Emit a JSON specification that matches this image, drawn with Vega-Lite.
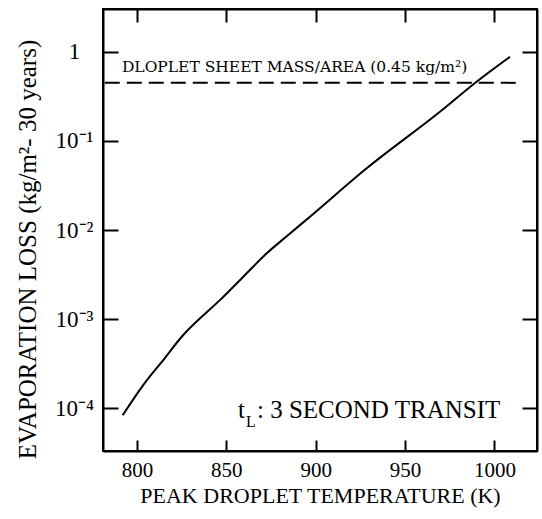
{
  "$schema": "https://vega.github.io/schema/vega-lite/v6.json",
  "width": 434,
  "height": 442,
  "autosize": {"type": "none"},
  "padding": {"left": 103, "top": 9, "right": 5, "bottom": 68},
  "background": "white",
  "config": {
    "font": "Liberation Serif",
    "view": {"stroke": "black", "strokeWidth": 2},
    "axis": {"domainColor": "black", "domainWidth": 2, "tickColor": "black", "tickWidth": 2, "grid": false,
      "labelFont": "Liberation Serif", "titleFont": "Liberation Serif", "labelColor": "black", "titleColor": "black",
      "labelFontWeight": "normal", "titleFontWeight": "normal"}
  },
  "data": {"values": [
    {"temperature": 792.0, "loss": 0.000083},
    {"temperature": 803.5, "loss": 0.000181},
    {"temperature": 814.7, "loss": 0.000346},
    {"temperature": 825.9, "loss": 0.000661},
    {"temperature": 834.3, "loss": 0.000975},
    {"temperature": 846.4, "loss": 0.00163},
    {"temperature": 859.5, "loss": 0.00299},
    {"temperature": 872.6, "loss": 0.00547},
    {"temperature": 884.6, "loss": 0.00879},
    {"temperature": 896.8, "loss": 0.0141},
    {"temperature": 928.5, "loss": 0.0493},
    {"temperature": 969.5, "loss": 0.213},
    {"temperature": 990.0, "loss": 0.464},
    {"temperature": 1008.7, "loss": 0.885}
  ]},
  "resolve": {"axis": {"x": "independent", "y": "independent"}},
  "layer": [
    {
      "mark": {"type": "line", "color": "black", "strokeWidth": 2, "interpolate": "monotone"},
      "encoding": {
        "x": {"field": "temperature", "type": "quantitative",
          "scale": {"domain": [781, 1023.8], "nice": false, "zero": false},
          "axis": {"orient": "bottom", "values": [800, 850, 900, 950, 1000], "format": "d", "tickSize": -11, "labelPadding": 36,
            "labelBaseline": "alphabetic", "labelFontSize": 21, "title": "PEAK DROPLET TEMPERATURE (K)", "titleFontSize": 22,
            "titleBaseline": "alphabetic", "titleY": 51, "titlePadding": 0}},
        "y": {"field": "loss", "type": "quantitative",
          "scale": {"type": "log", "domain": [0.0000329, 3.04], "nice": false},
          "axis": {"orient": "left", "values": [0.0001, 0.001, 0.01, 0.1, 1], "tickSize": -15, "labelPadding": 44,
            "labelAlign": "center", "labelFontSize": 23,
            "labelExpr": "datum.value > 0.5 ? '1' : datum.value > 0.05 ? '10⁻¹' : datum.value > 0.005 ? '10⁻²' : datum.value > 0.0005 ? '10⁻³' : '10⁻⁴'",
            "title": "EVAPORATION LOSS (kg/m²- 30 years)", "titleFontSize": 25, "titleBaseline": "alphabetic",
            "titleX": -68, "titleY": 240}}
      }
    },
    {
      "data": {"values": [{"temperature": 782, "loss": 0.45}, {"temperature": 1013, "loss": 0.45}]},
      "mark": {"type": "line", "color": "black", "strokeWidth": 2, "strokeDash": [15, 7]},
      "encoding": {
        "x": {"field": "temperature", "type": "quantitative",
          "axis": {"orient": "top", "values": [800, 850, 900, 950, 1000], "tickSize": -13, "labels": false, "title": null}},
        "y": {"field": "loss", "type": "quantitative",
          "axis": {"orient": "right", "values": [0.0001, 0.001, 0.01, 0.1, 1], "tickSize": -15, "labels": false, "title": null}}
      }
    },
    {
      "data": {"values": [{}]},
      "mark": {"type": "text", "align": "left", "baseline": "alphabetic", "fontSize": 15.5, "font": "DejaVu Serif"},
      "encoding": {"x": {"datum": 791.6, "axis": null}, "y": {"datum": 0.596, "axis": null}, "text": {"value": "DLOPLET SHEET MASS/AREA (0.45 kg/m²)"}}
    },
    {
      "data": {"values": [{}]},
      "mark": {"type": "text", "align": "left", "baseline": "alphabetic", "fontSize": 25, "font": "Liberation Serif"},
      "encoding": {"x": {"datum": 856.5, "axis": null}, "y": {"datum": 0.0000772, "axis": null}, "text": {"value": "t"}}
    },
    {
      "data": {"values": [{}]},
      "mark": {"type": "text", "align": "left", "baseline": "alphabetic", "fontSize": 16, "font": "Liberation Serif", "dx": 8, "dy": 9},
      "encoding": {"x": {"datum": 856.5, "axis": null}, "y": {"datum": 0.0000772, "axis": null}, "text": {"value": "L"}}
    },
    {
      "data": {"values": [{}]},
      "mark": {"type": "text", "align": "left", "baseline": "alphabetic", "fontSize": 25, "font": "Liberation Serif", "dx": 19},
      "encoding": {"x": {"datum": 856.5, "axis": null}, "y": {"datum": 0.0000772, "axis": null}, "text": {"value": ": 3 SECOND TRANSIT"}}
    }
  ]
}
